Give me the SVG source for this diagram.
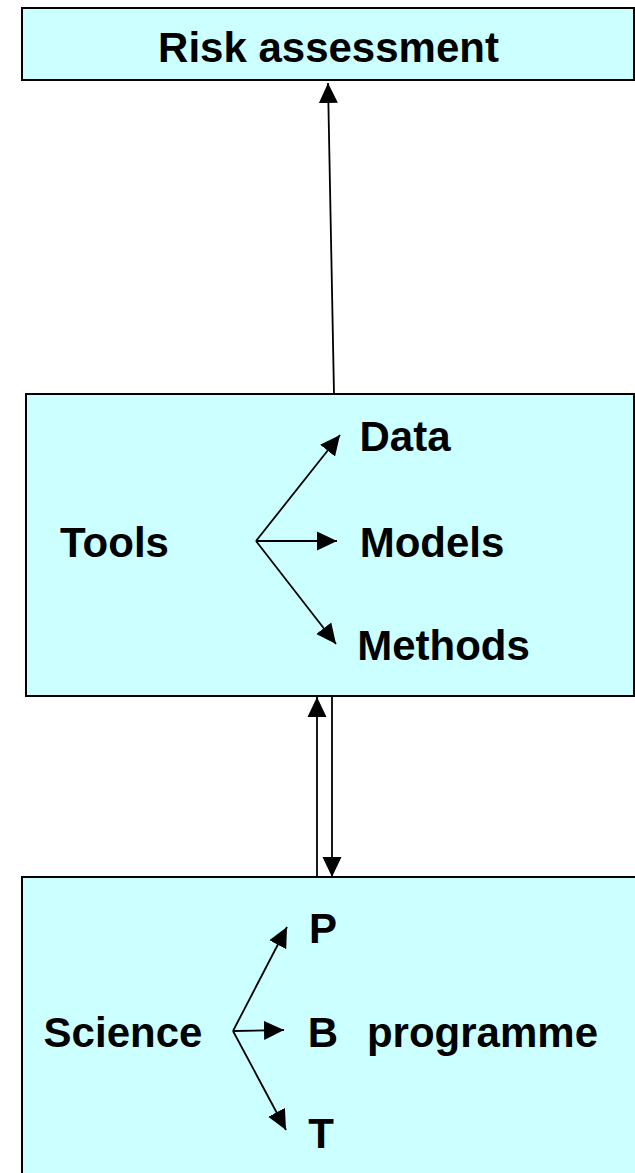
<svg xmlns="http://www.w3.org/2000/svg" width="635" height="1173" viewBox="0 0 635 1173">
<style>
.box{fill:#CCFFFF;stroke:#000;stroke-width:2}
.lbl{font-family:"Liberation Sans",Arial,sans-serif;font-weight:bold;font-size:42px;fill:#000;text-anchor:middle}
.con{stroke:#000;stroke-width:1.8;fill:none;marker-end:url(#ah)}
</style>
<defs>
<marker id="ah" markerUnits="userSpaceOnUse" markerWidth="20" markerHeight="20" refX="20" refY="10" orient="auto" viewBox="0 0 20 20">
<path d="M0,0.5 L20,10 L0,19.5 z" fill="#000"/>
</marker>
</defs>
<rect width="635" height="1173" fill="#fff"/>
<g id="risk-assessment">
<rect class="box" x="22" y="8" width="612" height="72"/>
<text class="lbl" x="328.5" y="62">Risk assessment</text>
</g>
<g id="tools">
<rect class="box" x="26" y="394" width="608" height="302"/>
<text class="lbl" x="114.5" y="557">Tools</text>
<text class="lbl" x="405" y="451">Data</text>
<text class="lbl" x="432" y="557">Models</text>
<text class="lbl" x="443.5" y="660">Methods</text>
</g>
<g id="science">
<rect class="box" x="22" y="877" width="620" height="310"/>
<text class="lbl" x="123" y="1047">Science</text>
<text class="lbl" x="323" y="943">P</text>
<text class="lbl" x="323" y="1047">B</text>
<text class="lbl" x="482.5" y="1047">programme</text>
<text class="lbl" x="321" y="1148">T</text>
</g>
<g id="connectors">
<line class="con" x1="334" y1="394" x2="328" y2="83"/>
<line class="con" x1="256" y1="541" x2="340" y2="435"/>
<line class="con" x1="256" y1="541" x2="337" y2="541"/>
<line class="con" x1="256" y1="541" x2="336" y2="644"/>
<line class="con" x1="233" y1="1031" x2="287" y2="927"/>
<line class="con" x1="233" y1="1031" x2="284" y2="1030"/>
<line class="con" x1="233" y1="1031" x2="286" y2="1130"/>
<line class="con" x1="317" y1="877" x2="317" y2="697"/>
<line class="con" x1="332" y1="696" x2="332" y2="877"/>
</g>
</svg>
